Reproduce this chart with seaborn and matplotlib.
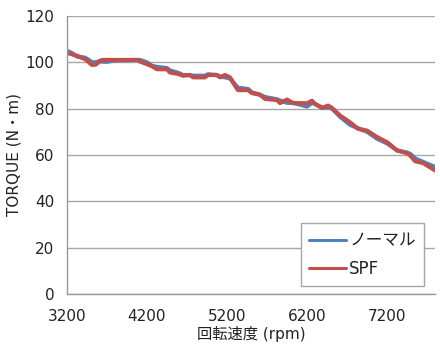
import numpy as np
import pandas as pd
import matplotlib
matplotlib.use('Agg')
import matplotlib.pyplot as plt
import seaborn as sns

# rpm sample points
rpm = [3200, 3262, 3325, 3425, 3475, 3512, 3562, 3612, 3637, 3700, 3800, 4087, 4112,
       4200, 4262, 4325, 4450, 4487, 4587, 4650, 4737, 4775, 4925, 4962, 5075, 5112,
       5175, 5237, 5300, 5337, 5462, 5512, 5612, 5675, 5825, 5862, 5950, 6025, 6200,
       6262, 6300, 6387, 6462, 6512, 6612, 6737, 6837, 6950, 7075, 7200, 7325, 7450,
       7487, 7550, 7650, 7800]

torque_normal = [105.0, 104.0, 102.5, 102.0, 101.0, 100.0, 100.0, 100.5, 100.3, 100.2, 100.8,
                 101.0, 101.0, 100.0, 98.5, 98.0, 97.5, 96.5, 95.5, 94.5, 94.5, 94.2, 94.2,
                 94.8, 94.5, 93.8, 93.5, 93.0, 90.5, 89.0, 88.5, 87.0, 86.0, 85.0, 84.0,
                 83.5, 82.5, 82.5, 80.9, 82.5, 82.0, 80.5, 80.5, 80.0, 76.5, 73.0, 71.5,
                 70.0, 67.0, 65.0, 62.0, 61.0, 60.5, 58.5, 57.0, 54.8]

torque_spf = [104.0, 103.5, 102.8, 101.4, 100.0, 98.9, 99.0, 100.5, 101.0, 101.0, 101.0,
              101.0, 100.3, 99.2, 98.3, 97.0, 97.0, 95.6, 95.0, 94.2, 94.5, 93.5, 93.5,
              94.5, 94.5, 93.5, 94.5, 93.5, 89.9, 88.0, 88.0, 86.7, 86.0, 84.2, 83.7,
              82.4, 83.9, 82.4, 82.3, 83.4, 82.0, 80.3, 81.3, 80.3, 77.0, 74.1, 71.3,
              70.5, 67.7, 65.5, 61.9, 60.8, 59.8, 57.3, 56.5, 53.3]

series_names = ['ノーマル', 'SPF']
colors = ['#4F81BD', '#C0504D']
x_ticks = [3200, 4200, 5200, 6200, 7200]
y_ticks = [0, 20, 40, 60, 80, 100, 120]

df = pd.DataFrame({
    'rpm': rpm * 2,
    'torque': torque_normal + torque_spf,
    'series': [series_names[0]] * len(rpm) + [series_names[1]] * len(rpm),
})

sns.set_style('white')
plt.rcParams['font.family'] = ['DejaVu Sans', 'Noto Sans CJK JP']

fig = plt.figure(figsize=(4.4, 3.54), dpi=100)
ax = fig.add_axes([0.152, 0.1695, 0.837, 0.7855])

sns.lineplot(data=df, x='rpm', y='torque', hue='series', hue_order=series_names,
             palette=colors, linewidth=3, ax=ax)

ax.set_xlim(3200, 7800)
ax.set_ylim(0, 120)
ax.set_xticks(x_ticks)
ax.set_yticks(y_ticks)
ax.tick_params(axis='x', labelsize=11, labelcolor='#222222', length=0, pad=11)
ax.tick_params(axis='y', labelsize=11, labelcolor='#222222', length=4,
               color='#999999', direction='out', pad=5)
ax.grid(axis='y', color='#A6A6A6', linewidth=1)
ax.set_axisbelow(True)
for s in ['top', 'right']:
    ax.spines[s].set_visible(False)
for s in ['left', 'bottom']:
    ax.spines[s].set_color('#999999')
    ax.spines[s].set_linewidth(1)

ax.set_xlabel('回転速度 (rpm)', fontsize=11, color='#222222', labelpad=1)
ax.set_ylabel('TORQUE (N・m)', fontsize=11, color='#222222', labelpad=3)

leg = ax.legend(loc='lower right', bbox_to_anchor=(0.97, 0.029), borderaxespad=0,
                fontsize=12, frameon=True, fancybox=False, edgecolor='#A6A6A6',
                handlelength=2.2, handletextpad=0.2, labelspacing=0.6, framealpha=1,
                borderpad=0.5)
leg.get_frame().set_linewidth(1)
for t in leg.get_texts():
    t.set_color('#222222')
for h in leg.get_lines():
    h.set_linewidth(2.2)

plt.savefig('out.png', dpi=100)
plt.close()
